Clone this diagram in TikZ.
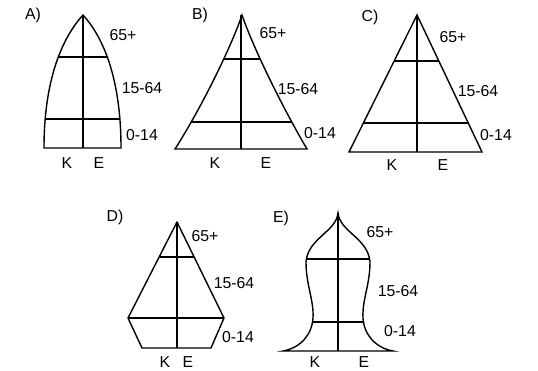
\documentclass[tikz,border=0pt]{standalone}
\usepackage{fontspec}
\setmainfont{Liberation Sans}
\usepackage{tikz}
\usetikzlibrary{positioning}

\newcommand{\profA}{(83,15) .. controls (62,38) and (44,80) .. (44,148) -- (121,148) .. controls (121,80) and (104,38) .. cycle}
\newcommand{\profB}{(242,15) .. controls (230,50) and (200,110) .. (175,149) -- (307,149) .. controls (284,110) and (254,50) .. cycle}
\newcommand{\profC}{(417,15) -- (349,152) -- (482,152) -- cycle}
\newcommand{\profD}{(177,222) -- (224,318) -- (211,348) -- (142,348) -- (128,318) -- cycle}
\newcommand{\profE}{(338,213) .. controls (336,232) and (308,238) .. (306,262) .. controls (306,285) and (314,300) .. (313,318) .. controls (312,335) and (300,348) .. (283,351) -- (393,351) .. controls (376,348) and (364,335) .. (363,318) .. controls (362,300) and (370,285) .. (370,262) .. controls (368,238) and (340,232) .. cycle}

\begin{document}
\begin{tikzpicture}[x=0.02cm, y=-0.02cm, line width=0.8pt,
    lbl/.style={font=\fontsize{9}{10}\selectfont, inner sep=0pt}]
    \useasboundingbox (0,0) rectangle (538,370);

    % A
    \begin{scope}
    \clip \profA;
    \draw (0,57) -- (200,57);
    \draw (0,119) -- (200,119);
  \end{scope}
    \draw \profA;
    \draw (83,15) -- (83,148);
    \node[lbl] (ta) at (33,15) {A)};
    \node[lbl] (a65) at (123,35) {65+};
    \node[lbl] (amid) at (142,88) {15-64};
    \node[lbl] (alow) at (142,135) {0-14};
    \node[lbl] (ak) at (67,163) {K};
    \node[lbl] (ae) at (99,163) {E};

    % B
    \begin{scope}
    \clip \profB;
    \draw (150,59) -- (330,59);
    \draw (150,122) -- (330,122);
  \end{scope}
    \draw \profB;
    \draw (241,15) -- (241,149);
    \node[lbl] (tb) at (200,15) {B)};
    \node[lbl] (b65) at (273,33) {65+};
    \node[lbl] (bmid) at (298,89) {15-64};
    \node[lbl] (blow) at (320,133) {0-14};
    \node[lbl] (bk) at (215,163) {K};
    \node[lbl] (be) at (266,163) {E};

    % C
    \begin{scope}
    \clip \profC;
    \draw (330,61) -- (500,61);
    \draw (330,123) -- (500,123);
  \end{scope}
    \draw \profC;
    \draw (417,15) -- (417,152);
    \node[lbl] (tc) at (370,17) {C)};
    \node[lbl] (c65) at (453,37) {65+};
    \node[lbl] (cmid) at (478,91) {15-64};
    \node[lbl] (clow) at (496,135) {0-14};
    \node[lbl] (ck) at (392,165) {K};
    \node[lbl] (ce) at (443,165) {E};

    % D
    \begin{scope}
    \clip \profD;
    \draw (100,257) -- (250,257);
    \draw (100,318) -- (250,318);
  \end{scope}
    \draw[line join=round] \profD;
    \draw (177,222) -- (177,348);
    \node[lbl] (td) at (115,217) {D)};
    \node[lbl] (d65) at (205,236) {65+};
    \node[lbl] (dmid) at (234,283) {15-64};
    \node[lbl] (dlow) at (238,337) {0-14};
    \node[lbl] (dk) at (165,362) {K};
    \node[lbl] (de) at (188,362) {E};

    % E
    \begin{scope}
    \clip \profE;
    \draw (260,259) -- (420,259);
    \draw (260,322) -- (420,322);
  \end{scope}
    \draw \profE;
    \draw (338,213) -- (338,351);
    \node[lbl] (te) at (281,218) {E)};
    \node[lbl] (e65) at (380,232) {65+};
    \node[lbl] (emid) at (398,291) {15-64};
    \node[lbl] (elow) at (400,331) {0-14};
    \node[lbl] (ek) at (315,362) {K};
    \node[lbl] (ee) at (364,362) {E};

    \end{tikzpicture}
\end{document}
